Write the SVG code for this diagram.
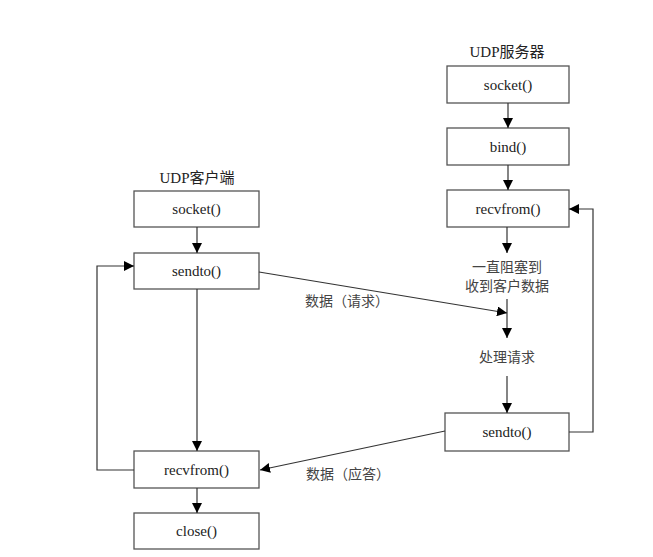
<svg xmlns="http://www.w3.org/2000/svg" width="653" height="557" viewBox="0 0 653 557">
<defs>
<marker id="ah" viewBox="0 0 10 10" refX="10" refY="5" markerWidth="10" markerHeight="10" markerUnits="userSpaceOnUse" orient="auto">
<path d="M0,0 L10,5 L0,10 z" fill="#000"/>
</marker>
<style>
.box{fill:#fff;stroke:#555;stroke-width:1.3}
.lbl{font-family:"Liberation Serif","Noto Sans CJK SC",serif;font-size:15px;fill:#222;text-anchor:middle;dominant-baseline:central}
.cn{font-family:"Liberation Serif","Noto Sans CJK SC",serif;font-size:14px;fill:#444;text-anchor:middle;dominant-baseline:central}
.ln{fill:none;stroke:#333;stroke-width:1.2}
</style>
</defs>
<rect width="653" height="557" fill="#fff"/>
<text class="lbl" x="507" y="52">UDP服务器</text>
<text class="lbl" x="197" y="178">UDP客户端</text>
<g id="s_socket"><rect class="box" x="447" y="66" width="122" height="37"/><text class="lbl" x="508" y="84.5">socket()</text></g>
<g id="s_bind"><rect class="box" x="447" y="128" width="122" height="37"/><text class="lbl" x="508" y="146.5">bind()</text></g>
<g id="s_recvfrom"><rect class="box" x="447" y="190" width="122" height="37"/><text class="lbl" x="508" y="208.5">recvfrom()</text></g>
<g id="s_block"><text class="cn" x="507" y="267">一直阻塞到</text><text class="cn" x="507" y="286">收到客户数据</text></g>
<g id="s_process"><text class="cn" x="507" y="357">处理请求</text></g>
<g id="s_sendto"><rect class="box" x="445" y="413" width="124" height="38"/><text class="lbl" x="507" y="432">sendto()</text></g>
<g id="c_socket"><rect class="box" x="134" y="191" width="125" height="36"/><text class="lbl" x="196.5" y="209">socket()</text></g>
<g id="c_sendto"><rect class="box" x="134" y="253" width="125" height="36"/><text class="lbl" x="196.5" y="271">sendto()</text></g>
<g id="c_recvfrom"><rect class="box" x="134" y="451" width="125" height="37"/><text class="lbl" x="196.5" y="469.5">recvfrom()</text></g>
<g id="c_close"><rect class="box" x="134" y="513" width="125" height="36"/><text class="lbl" x="196.5" y="531">close()</text></g>
<g id="labels"><text class="cn" x="347" y="301">数据（请求）</text><text class="cn" x="348" y="474">数据（应答）</text></g>
<g id="connectors">
<line class="ln" x1="508" y1="103" x2="508" y2="128" marker-end="url(#ah)"/>
<line class="ln" x1="508" y1="165" x2="508" y2="190" marker-end="url(#ah)"/>
<line class="ln" x1="507" y1="227" x2="507" y2="253" marker-end="url(#ah)"/>
<line class="ln" x1="507" y1="299" x2="507" y2="338" marker-end="url(#ah)"/>
<line class="ln" x1="507" y1="376" x2="507" y2="413" marker-end="url(#ah)"/>
<polyline class="ln" points="569,432 593,432 593,209 569,209" marker-end="url(#ah)"/>
<line class="ln" x1="197" y1="227" x2="197" y2="253" marker-end="url(#ah)"/>
<line class="ln" x1="197" y1="289" x2="197" y2="451" marker-end="url(#ah)"/>
<line class="ln" x1="197" y1="488" x2="197" y2="513" marker-end="url(#ah)"/>
<polyline class="ln" points="134,470 97,470 97,266 134,266" marker-end="url(#ah)"/>
<line class="ln" x1="259" y1="272" x2="507" y2="313" marker-end="url(#ah)"/>
<line class="ln" x1="445" y1="431" x2="260" y2="470" marker-end="url(#ah)"/>
</g>
</svg>
